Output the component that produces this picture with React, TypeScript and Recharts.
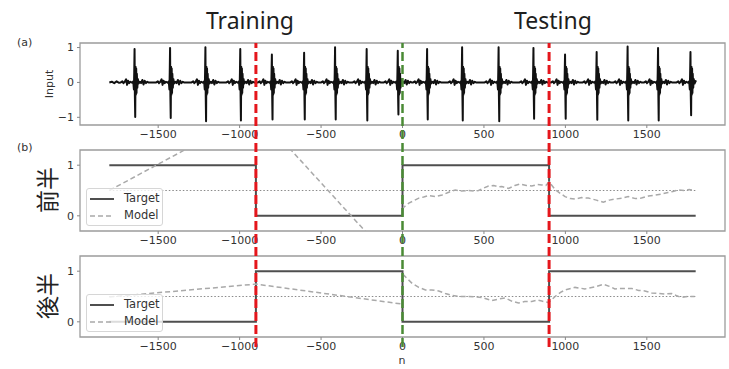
import React from 'react';
import {
    Legend,
    Line,
    LineChart,
    ReferenceArea,
    ReferenceLine,
    XAxis,
    YAxis
} from 'recharts';

// axes
const xTicks = [-1500, -1000, -500, 0, 500, 1000, 1500];
const xDomain: [number, number] = [-1980, 1980];
const inputTicks = [-1, 0, 1];
const inputDomain: [number, number] = [-1.22, 1.13];
const halfTicks = [0, 1];
const halfDomain: [number, number] = [-0.3, 1.3];

// phase boundaries
const phaseBoundaries = [-900, 900];
const splitPoint = 0;

// input signal : beat positions and QRS amplitudes
const beatCenters = [-1645, -1427, -1210, -996, -802, -604, -414, -220, -29, 151, 366, 590, 804, 998, 1192, 1382, 1569, 1768];
const beatPeaks = [0.96, 0.99, 1.01, 0.96, 0.8, 0.85, 1.01, 0.96, 0.91, 0.96, 1.01, 1.01, 0.99, 0.8, 0.87, 1.03, 0.99, 0.87];
const beatTroughs = [-0.99, -1.02, -1.11, -1.09, -1.06, -1.06, -1.06, -1.09, -0.92, -1.06, -1.09, -1.11, -1.04, -1.04, -1.07, -1.09, -1.09, -0.94];
// one beat: offsets from the R peak and the trace around it (0 = R, 4 = S)
const beatOffsets = [-85, -75, -68, -60, -52, -46, -40, -33, -25, -15, -8, -4, -2, 0, 2, 4, 6, 8, 10, 12, 14, 17, 20, 25, 32, 40, 48, 55, 62, 70, 78, 85];
const beatShape = [0.0, 0.03, -0.02, 0.02, 0.09, -0.07, 0.05, -0.02, 0.02, -0.01, 0.03, -0.2, 0.3, 0, -0.4, 0, 0.45, -0.35, 0.4, -0.3, 0.25, -0.15, 0.1, -0.03, 0.02, -0.02, 0.07, -0.06, 0.05, -0.02, 0.02, 0.0];
const inputEdges: [number, number][] = [[-1800, 0.0], [-1785, 0.02], [-1770, -0.02], [-1755, 0.03], [-1740, -0.01], [1800, 0.04]];

// targets
const targetN = [-1800, -900, -900, 0, 0, 900, 900, 1800];
const firstHalfTarget = [1, 1, 0, 0, 1, 1, 0, 0];
const secondHalfTarget = [0, 0, 1, 1, 0, 0, 1, 1];
const thresholdN = [-1800, 1800];
const thresholdValue = 0.5;

// model outputs
const firstHalfModelTrain: [number, number][] = [[-1800, 0.5], [-900, 2.06], [0, -1.11]];
const firstHalfModelTest: [number, number][] = [
    [0, 0.12], [8, 0.17], [39, 0.25], [70, 0.3], [100, 0.35], [130, 0.37], [161, 0.4], [200, 0.38], [243, 0.41],
    [280, 0.46], [324, 0.51], [360, 0.49], [400, 0.5], [440, 0.49], [467, 0.5], [500, 0.55], [528, 0.59],
    [560, 0.6], [590, 0.57], [610, 0.58], [651, 0.54], [690, 0.6], [722, 0.63], [760, 0.6], [794, 0.59],
    [830, 0.62], [855, 0.61], [880, 0.6], [900, 0.67], [937, 0.52], [970, 0.44], [998, 0.38], [1030, 0.34],
    [1059, 0.33], [1100, 0.36], [1141, 0.35], [1190, 0.31], [1233, 0.27], [1270, 0.31], [1304, 0.33],
    [1350, 0.35], [1386, 0.38], [1430, 0.34], [1467, 0.35], [1510, 0.39], [1549, 0.41], [1590, 0.43],
    [1630, 0.46], [1660, 0.48], [1692, 0.51], [1730, 0.5], [1760, 0.52], [1794, 0.5]
];
const secondHalfModelTrain: [number, number][] = [[-1800, 0.49], [-900, 0.745], [0, 0.35]];
const secondHalfModelTest: [number, number][] = [
    [0, 0.93], [8, 0.92], [30, 0.85], [59, 0.76], [100, 0.68], [141, 0.63], [180, 0.63], [222, 0.61],
    [263, 0.56], [304, 0.52], [350, 0.5], [406, 0.5], [450, 0.49], [488, 0.48], [549, 0.42], [590, 0.45],
    [631, 0.47], [670, 0.41], [712, 0.37], [750, 0.4], [794, 0.4], [830, 0.43], [855, 0.41], [896, 0.38],
    [937, 0.5], [970, 0.58], [998, 0.63], [1059, 0.68], [1120, 0.65], [1182, 0.69], [1233, 0.74],
    [1270, 0.7], [1304, 0.65], [1350, 0.66], [1406, 0.66], [1450, 0.62], [1488, 0.61], [1530, 0.57],
    [1569, 0.56], [1610, 0.55], [1651, 0.56], [1680, 0.52], [1712, 0.48], [1750, 0.5], [1794, 0.5]
];

const inputData = [
    ...inputEdges.map(([n, v]) => ({ n, v })),
    ...beatCenters.flatMap((c, i) =>
        beatOffsets.map((o, j) => ({
            n: c + o,
            v: o === 0 ? beatPeaks[i] : o === 4 ? beatTroughs[i] : beatShape[j]
        }))
    )
]
    .filter(p => p.n <= 1800)
    .sort((a, b) => a.n - b.n);

const toRows = (pts: [number, number][]) => pts.map(([n, v]) => ({ n, v }));
const targetRows = (vals: number[]) => targetN.map((n, i) => ({ n, v: vals[i] }));
const legendOrder = ['Target', 'Model'];

const FONT = '"DejaVu Sans", sans-serif';
const tickStyle = { fontSize: 11, fill: '#333', fontFamily: FONT };
const fmt = (v: number) => String(v).replace('-', '\u2212');

const HalfLegend = ({ payload }: any) => (
    <div
        style={{
            boxSizing: 'border-box',
            width: 77,
            height: 38,
            border: '1px solid #d6d6d6',
            borderRadius: 3,
            background: 'rgba(255,255,255,0.8)',
            paddingTop: 1
        }}
    >
        {(payload || [])
            .filter((p: any) => legendOrder.includes(p.value))
            .sort((a: any, b: any) => legendOrder.indexOf(a.value) - legendOrder.indexOf(b.value))
            .map((p: any) => (
                <div key={p.value} style={{ display: 'flex', alignItems: 'center', height: 17 }}>
                    <svg width={37} height={6} style={{ flex: 'none' }}>
                        <line
                            x1={3}
                            y1={3}
                            x2={27}
                            y2={3}
                            stroke={p.color}
                            strokeWidth={p.value === 'Target' ? 2 : 1.5}
                            strokeDasharray={p.value === 'Target' ? undefined : '5 3'}
                        />
                    </svg>
                    <span style={{ fontFamily: FONT, fontSize: 11.5, color: '#333', lineHeight: '17px' }}>
                        {p.value}
                    </span>
                </div>
            ))}
    </div>
);

const HalfPanel = ({
    top,
    target,
    train,
    test
}: {
    top: number;
    target: number[];
    train: [number, number][];
    test: [number, number][];
}) => (
    <div style={{ position: 'absolute', left: 0, top }}>
        <LineChart width={729} height={116} margin={{ top: 15, right: 4, bottom: 0, left: 0 }}>
            <XAxis
                dataKey="n"
                type="number"
                domain={xDomain}
                ticks={xTicks}
                interval={0}
                allowDataOverflow
                tickFormatter={fmt}
                tick={tickStyle}
                tickSize={3}
                tickLine={{ stroke: '#888' }}
                axisLine={false}
                height={20}
            />
            <YAxis
                type="number"
                domain={halfDomain}
                ticks={halfTicks}
                interval={0}
                allowDataOverflow
                tick={tickStyle}
                tickSize={3}
                tickMargin={3}
                tickLine={{ stroke: '#888' }}
                axisLine={false}
                width={80}
            />
            <ReferenceArea
                x1={xDomain[0]}
                x2={xDomain[1]}
                y1={halfDomain[0]}
                y2={halfDomain[1]}
                fill="none"
                stroke="#9c9c9c"
                strokeWidth={1.3}
            />
            <ReferenceLine
                segment={[
                    { x: thresholdN[0], y: thresholdValue },
                    { x: thresholdN[1], y: thresholdValue }
                ]}
                stroke="#8a8a8a"
                strokeWidth={1.2}
                strokeDasharray="1.5 2"
            />
            <Line
                data={targetRows(target)}
                dataKey="v"
                name="Target"
                stroke="#4f4f4f"
                strokeWidth={2}
                dot={false}
                type="linear"
                isAnimationActive={false}
            />
            <Line
                data={toRows(test)}
                dataKey="v"
                name="Model"
                stroke="#a9a9a9"
                strokeWidth={1.5}
                strokeDasharray="5 3"
                dot={false}
                type="linear"
                isAnimationActive={false}
            />
            <Line
                data={toRows(train)}
                dataKey="v"
                name="Model train"
                legendType="none"
                stroke="#a9a9a9"
                strokeWidth={1.5}
                strokeDasharray="5 3"
                dot={false}
                type="linear"
                isAnimationActive={false}
            />
            <Legend
                layout="horizontal"
                verticalAlign="middle"
                align="center"
                wrapperStyle={{ left: 86, top: 53, width: 77, height: 38 }}
                content={<HalfLegend />}
            />
        </LineChart>
    </div>
);

export default function App() {
    const markerRows = xDomain.map(n => ({ n, v: 0.5 }));
    return (
        <div style={{ position: 'absolute', left: 0, top: 0, width: 729, height: 369, background: '#fff' }}>
            <svg width={729} height={369} style={{ position: 'absolute', left: 0, top: 0 }}>
                <text x={250} y={29} textAnchor="middle" fontFamily='"Noto Sans", sans-serif' fontSize={23} fill="#1e1e1e">
                    Training
                </text>
                <text x={553} y={29} textAnchor="middle" fontFamily='"Noto Sans", sans-serif' fontSize={23} fill="#1e1e1e">
                    Testing
                </text>
                <text x={17} y={46} fontFamily={FONT} fontSize={11} fill="#333">(a)</text>
                <text x={17} y={151} fontFamily={FONT} fontSize={11} fill="#333">(b)</text>
                <text transform="translate(53,84) rotate(-90)" textAnchor="middle" fontFamily={FONT} fontSize={11} fill="#333">
                    Input
                </text>
                <text transform="translate(56,190) rotate(-90)" textAnchor="middle" fontFamily='"Noto Sans CJK JP", sans-serif' fontSize={23} fill="#222">
                    前半
                </text>
                <text transform="translate(56,296) rotate(-90)" textAnchor="middle" fontFamily='"Noto Sans CJK JP", sans-serif' fontSize={23} fill="#222">
                    後半
                </text>
                <text x={402} y={364} textAnchor="middle" fontFamily={FONT} fontSize={11} fill="#333">n</text>
            </svg>

            <div style={{ position: 'absolute', left: 0, top: 0 }}>
                <LineChart width={729} height={145} margin={{ top: 43, right: 4, bottom: 0, left: 0 }}>
                    <XAxis
                        dataKey="n"
                        type="number"
                        domain={xDomain}
                        ticks={xTicks}
                        interval={0}
                        allowDataOverflow
                        tickFormatter={fmt}
                        tick={tickStyle}
                        tickSize={3}
                        tickLine={{ stroke: '#888' }}
                        axisLine={false}
                        height={20}
                    />
                    <YAxis
                        type="number"
                        domain={inputDomain}
                        ticks={inputTicks}
                        interval={0}
                        allowDataOverflow
                        tickFormatter={fmt}
                        tick={tickStyle}
                        tickSize={3}
                        tickMargin={3}
                        tickLine={{ stroke: '#888' }}
                        axisLine={false}
                        width={80}
                    />
                    <ReferenceArea
                        x1={xDomain[0]}
                        x2={xDomain[1]}
                        y1={inputDomain[0]}
                        y2={inputDomain[1]}
                        fill="none"
                        stroke="#9c9c9c"
                        strokeWidth={1.3}
                    />
                    <Line
                        data={inputData}
                        dataKey="v"
                        name="Input"
                        stroke="#111"
                        strokeWidth={2}
                        strokeLinejoin="round"
                        dot={false}
                        type="linear"
                        isAnimationActive={false}
                    />
                </LineChart>
            </div>

            <HalfPanel top={135} target={firstHalfTarget} train={firstHalfModelTrain} test={firstHalfModelTest} />
            <HalfPanel top={241} target={secondHalfTarget} train={secondHalfModelTrain} test={secondHalfModelTest} />

            {/* phase markers run across all panels */}
            <div style={{ position: 'absolute', left: 0, top: 0, pointerEvents: 'none' }}>
                <LineChart width={729} height={369} margin={{ top: 43, right: 4, bottom: 22, left: 80 }}>
                    <XAxis dataKey="n" type="number" domain={xDomain} allowDataOverflow hide />
                    <YAxis type="number" domain={[0, 1]} allowDataOverflow hide />
                    <Line
                        data={markerRows}
                        dataKey="v"
                        stroke="none"
                        dot={false}
                        legendType="none"
                        isAnimationActive={false}
                    />
                    {phaseBoundaries.map(b => (
                        <ReferenceLine key={b} x={b} stroke="#e5161c" strokeWidth={3} strokeDasharray="9 4" ifOverflow="visible" />
                    ))}
                    <ReferenceLine x={splitPoint} stroke="#4a8a35" strokeWidth={2.5} strokeDasharray="9 4" ifOverflow="visible" />
                </LineChart>
            </div>
        </div>
    );
}
